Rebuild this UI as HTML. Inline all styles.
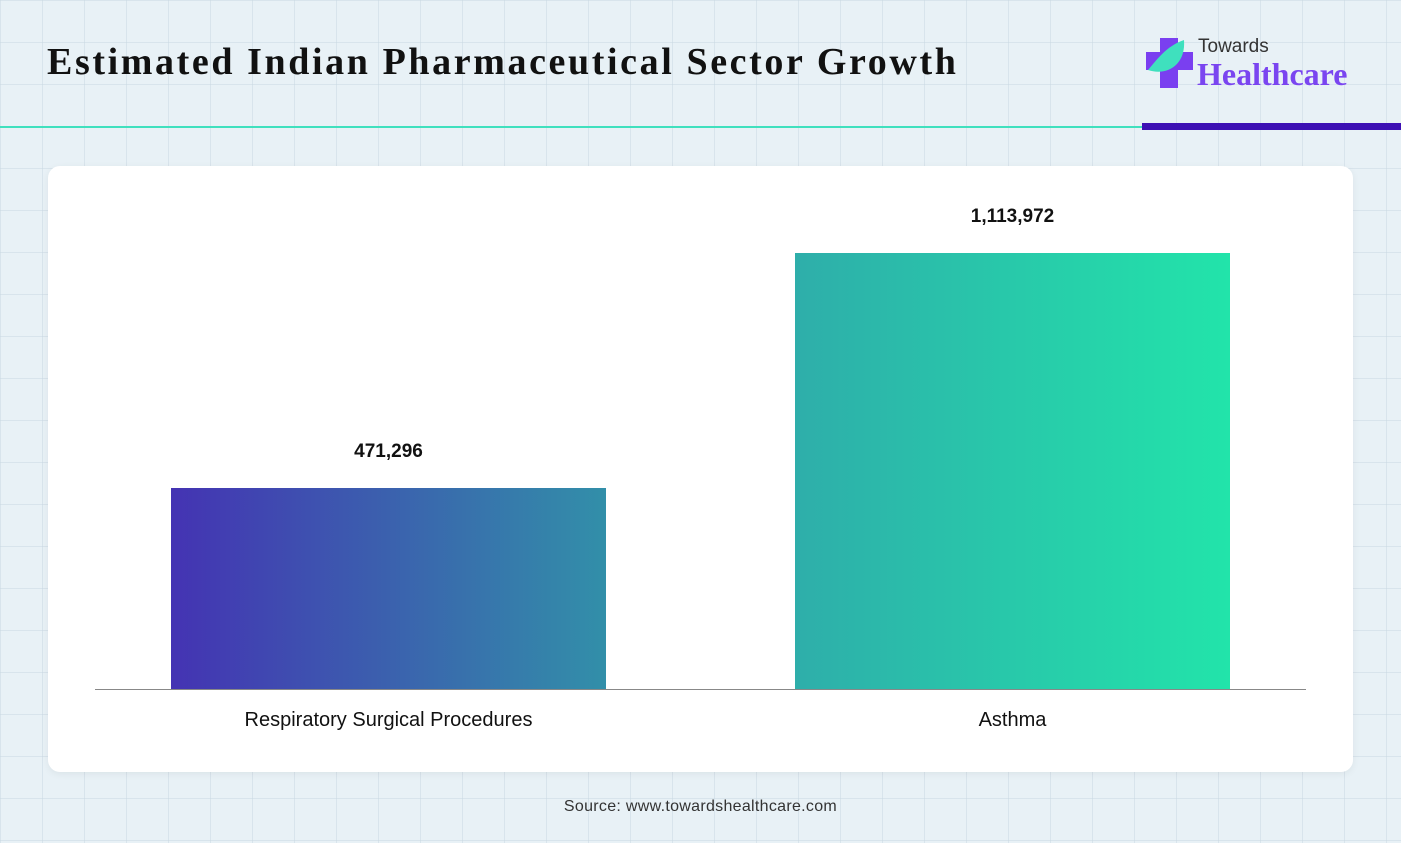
<!DOCTYPE html>
<html><head><meta charset="utf-8">
<style>
body{margin:0;width:1401px;height:843px;overflow:hidden;font-family:"Liberation Sans",sans-serif;
background:#e8f1f6;background-image:linear-gradient(rgba(200,215,225,.5) 1px,transparent 1px),linear-gradient(90deg,rgba(200,215,225,.5) 1px,transparent 1px);background-size:42px 42px;position:relative}
.title{position:absolute;left:47px;top:40px;font-family:"Liberation Serif",serif;font-weight:bold;font-size:38px;color:#111;letter-spacing:2.6px;white-space:nowrap}
.card{position:absolute;left:48px;top:166px;width:1305px;height:606px;background:#fff;border-radius:12px;box-shadow:0 2px 8px rgba(0,0,0,.06)}
.src{position:absolute;left:0;width:1401px;top:798px;text-align:center;font-size:16px;color:#333;letter-spacing:.3px}
</style></head><body>
<div class="title">Estimated Indian Pharmaceutical Sector Growth</div>
<div style="position:absolute;left:0;top:126px;width:1142px;height:2px;background:#3fe0be"></div>
<div style="position:absolute;left:1142px;top:123px;width:259px;height:7px;background:#3d10b4"></div>
<div style="position:absolute;left:1146px;top:36px">
<svg width="50" height="54" style="position:absolute;left:0;top:0"><rect x="14" y="2" width="18" height="50" fill="#7a3ff0"/><rect x="0" y="16" width="47" height="18" fill="#7a3ff0"/><path d="M2 34 C20 40 40 30 38 4 C20 10 10 25 2 34Z" fill="#3fe0be"/></svg>
<div style="position:absolute;left:52px;top:0;font-size:19px;color:#333">Towards</div>
<div style="position:absolute;left:51px;top:20px;font-family:'Liberation Serif',serif;font-weight:bold;font-size:32px;color:#7a45f0">Healthcare</div>
</div>
<div class="card"></div>
<svg id="chart" width="1401" height="843" style="position:absolute;left:0;top:0">
<defs>
<linearGradient id="g1" x1="0" x2="1"><stop offset="0" stop-color="#4433b3"/><stop offset="1" stop-color="#328fa9"/></linearGradient>
<linearGradient id="g2" x1="0" x2="1"><stop offset="0" stop-color="#2eaeaa"/><stop offset="1" stop-color="#22e4aa"/></linearGradient>
</defs>
</svg>
<div class="src">Source: www.towardshealthcare.com</div>
<script>
const categories=["Respiratory Surgical Procedures","Asthma"];
const values=[471296,1113972];
const labels=["471,296","1,113,972"];
const svg=document.getElementById('chart');const NS='http://www.w3.org/2000/svg';
const y0=689,yMin=-78400,k=436/(1113972-yMin);
function y(v){return y0-(v-yMin)*k;}
const lefts=[171,795],bw=435,grads=['url(#g1)','url(#g2)'];
function mk(t,a){const e=document.createElementNS(NS,t);for(const n in a)e.setAttribute(n,a[n]);svg.appendChild(e);return e;}
values.forEach((v,i)=>{
const r=mk('rect',{x:lefts[i],y:y(v),width:bw,height:y0-y(v),fill:grads[i]});


const t=mk('text',{x:lefts[i]+bw/2,y:y(v)-31,'text-anchor':'middle','font-size':19,'font-weight':'bold',fill:'#111'});t.textContent=labels[i];


const c=mk('text',{x:lefts[i]+bw/2,y:726,'text-anchor':'middle','font-size':20,fill:'#111'});c.textContent=categories[i];


});
const ax=mk('line',{x1:95,x2:1306,y1:689.5,y2:689.5,stroke:'#888','stroke-width':1});


</script>
</body></html>
